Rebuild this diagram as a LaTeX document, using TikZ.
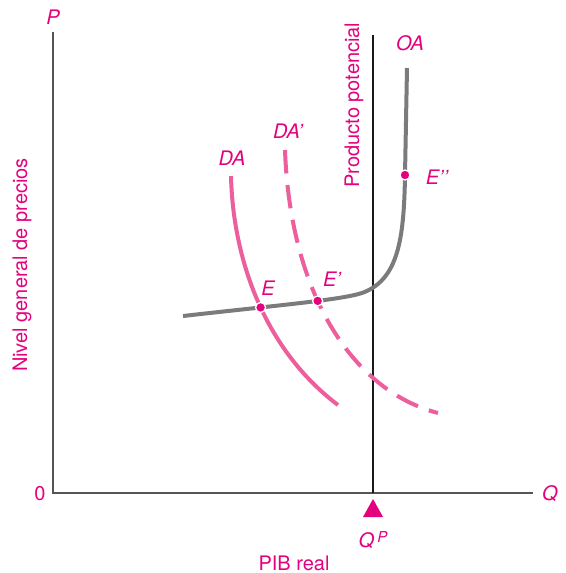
\documentclass[tikz,border=0pt]{standalone}
\usepackage{fontspec}
\setmainfont{TeX Gyre Heros}
\usetikzlibrary{intersections}

\definecolor{txtmag}{HTML}{E5007D}
\definecolor{curvepink}{HTML}{EC5E9C}
\definecolor{oagray}{HTML}{7B7B7E}
\definecolor{axisgray}{HTML}{555555}

\begin{document}
\begin{tikzpicture}[x=1pt, y=-1pt,
    axis/.style={axisgray, line width=1.6pt},
    curve/.style={line width=4pt},
    lbl/.style={text=txtmag, inner sep=0pt, font=\fontsize{20}{24}\selectfont},
    ilbl/.style={lbl, font=\fontsize{20}{24}\selectfont\itshape},
    eqpt/.style={circle, fill=txtmag, draw=white, line width=1.3pt,
      minimum size=10pt, inner sep=0pt}]
  \useasboundingbox (0,0) rectangle (565,573);

  % axes
  \coordinate (ytop) at (53,32);
  \coordinate (orig) at (53,493);
  \coordinate (xend) at (533,493);
  \draw[axis] (ytop) -- (orig) -- (xend);
  \node[ilbl] (p)    at (53,17)  {P};
  \node[ilbl] (q)    at (550,494) {Q};
  \node[lbl]  (zero) at (40,494) {0};
  \node[lbl, rotate=90] (ylab) at (22,265) {Nivel general de precios};
  \node[lbl] (xlab) at (294,563) {PIB real};

  % potential output
  \coordinate (pot top) at (373,35);
  \coordinate (pot bot) at (373,493);
  \draw[black!90, line width=2pt] (pot top) -- (pot bot);
  \node[lbl, rotate=90] (potlab) at (354,105) {Producto potencial};
  \fill[txtmag] (363,517) -- (383,517) -- (373,499) -- cycle;
  \node[ilbl] (qp) at (373,540)
    {Q\,\raisebox{0.55ex}{\fontsize{15}{15}\selectfont P}};

  % aggregate supply
  \draw[curve, oagray, name path=oa]
    (183,316) .. controls (280,305) and (340,300) .. (362,293)
    .. controls (398,280) and (404,240) .. (405,175)
    coordinate (e2) -- (407,68);
  \node[ilbl] (oalab) at (410,43) {OA};

  % aggregate demand, before and after
  \draw[curve, curvepink, name path=da]
    (231,176) .. controls (233,260) and (265,350) .. (338,405);
  \draw[curve, curvepink, dash pattern=on 23.5pt off 11.6pt, name path=dab]
    (285,150) .. controls (290,290) and (350,390) .. (438,413);
  \node[ilbl] (dalab)  at (232,158) {DA};
  \node[ilbl] (dablab) at (288,131) {DA’};

  % equilibria
  \path[name intersections={of=oa and da, by=e0}];
  \path[name intersections={of=oa and dab, by=e1}];
  \node[eqpt] (ept)  at (e0) {};
  \node[eqpt] (e1pt) at (e1) {};
  \node[eqpt] (e2pt) at (e2) {};
  \node[ilbl] (elab)  at (268,288) {E};
  \node[ilbl] (e1lab) at (332,279) {E’};
  \node[ilbl] (e2lab) at (437,177) {E’’};
\end{tikzpicture}
\end{document}
